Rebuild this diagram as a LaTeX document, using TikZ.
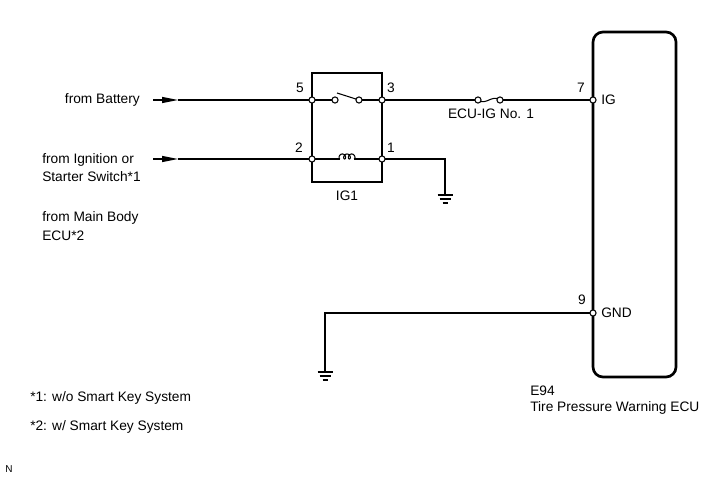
\documentclass[tikz,border=0pt]{standalone}
\usepackage{fontspec}
\setmainfont{Liberation Sans}
\usetikzlibrary{arrows.meta}
\begin{document}
\begin{tikzpicture}[x=0.75pt,y=-0.75pt,
  wire/.style={line width=0.8pt},
  boxline/.style={line width=1.5pt},
  eculine/.style={line width=2pt, rounded corners=7.5pt},
  pin/.style={circle, draw, fill=white, line width=0.8pt, inner sep=0pt, minimum size=4.6pt},
  lbl/.style={font=\fontsize{10.3}{12.4}\selectfont, inner sep=0pt},
  gnd/.style={line width=0.8pt},
  arr/.style={wire,-{Triangle[length=12pt,width=4.5pt]}}]
\useasboundingbox (0,0) rectangle (713,481);

% Relay box
\draw[boxline] (312,73) rectangle (382,182);
% ECU box
\draw[eculine] (593,32) rectangle (676,377);

% coordinates
\coordinate (bstart) at (153,100);
\coordinate (btip) at (178,100);
\coordinate (istart) at (153,159);
\coordinate (itip) at (178,159);
\coordinate (sw1) at (335,100);
\coordinate (sw2) at (359,100);
\coordinate (coilL) at (340,159);
\coordinate (coilR) at (354,159);
\coordinate (g1) at (445,159);
\coordinate (g1b) at (445,195);
\coordinate (fL) at (478,100);
\coordinate (fR) at (500,100);
\coordinate (g2) at (325,313);
\coordinate (g2b) at (325,372);

% wires
\draw[arr] (bstart) -- (btip);
\draw[arr] (istart) -- (itip);
\draw[wire] (btip) -- (312,100);
\draw[wire] (itip) -- (312,159);
\draw[wire] (312,100) -- (sw1);
\draw[wire] (sw2) -- (382,100);
\draw[wire] (sw2) -- (337,93);
\draw[wire] (312,159) -- (coilL);
\draw[wire] (coilR) -- (382,159);
\draw[wire] plot[domain=0:1080, samples=120] ({340 + 0.743*\x*pi/180 - 2*sin(\x)}, {159 - 2.5*(1-cos(\x))});
\draw[wire] (382,100) -- (fL);
\draw[wire] (fL) .. controls (486,106) and (492,94) .. (fR);
\draw[wire] (fR) -- (593,100);
\draw[wire] (382,159) -- (g1) -- (g1b);
\draw[wire] (593,313) -- (g2) -- (g2b);

% grounds
\draw[gnd] (437.5,195) -- (452.5,195) (439.5,199) -- (450.5,199) (442.5,203) -- (447.5,203);
\draw[gnd] (317.5,372) -- (332.5,372) (319.5,376) -- (330.5,376) (322.5,380) -- (327.5,380);

% pins
\node[pin] (p5) at (312,100) {};
\node[pin] (p3) at (382,100) {};
\node[pin] (p2) at (312,159) {};
\node[pin] (p1) at (382,159) {};
\node[pin] (s1) at (sw1) {};
\node[pin] (s2) at (sw2) {};
\node[pin] (f1) at (fL) {};
\node[pin] (f2) at (fR) {};
\node[pin] (p7) at (593,100) {};
\node[pin] (p9) at (593,313) {};

% labels
\node[lbl] (t5) at (300,88) {5};
\node[lbl] (t3) at (391,88) {3};
\node[lbl] (t2) at (299,148) {2};
\node[lbl] (t1) at (391,148) {1};
\node[lbl] (tig1) at (347,196) {IG1};
\node[lbl] (tfuse) at (491,114) {ECU-IG No. 1};
\node[lbl] (t7) at (581,88) {7};
\node[lbl, anchor=west] (tIG) at (601,100) {IG};
\node[lbl] (t9) at (582,300) {9};
\node[lbl, anchor=west] (tGND) at (601,313) {GND};
\node[lbl, anchor=east] (tbat) at (140,100) {from Battery};
\node[lbl, anchor=west] (tign1) at (42,160) {from Ignition or};
\node[lbl, anchor=west] (tign2) at (42,177) {Starter Switch*1};
\node[lbl, anchor=west] (tmb1) at (42,218) {from Main Body};
\node[lbl, anchor=west] (tmb2) at (42,236) {ECU*2};
\node[lbl, anchor=west] (te94) at (530,391) {E94};
\node[lbl, anchor=west] (tecu) at (530,408) {Tire Pressure Warning ECU};
\node[lbl, anchor=west] (fn1) at (30,398) {*1: w/o Smart Key System};
\node[lbl, anchor=west] (fn2) at (30,427) {*2: w/ Smart Key System};
\node[lbl, anchor=west, font=\fontsize{7.5}{9}\selectfont] (tn) at (5,469) {N};
\end{tikzpicture}
\end{document}
